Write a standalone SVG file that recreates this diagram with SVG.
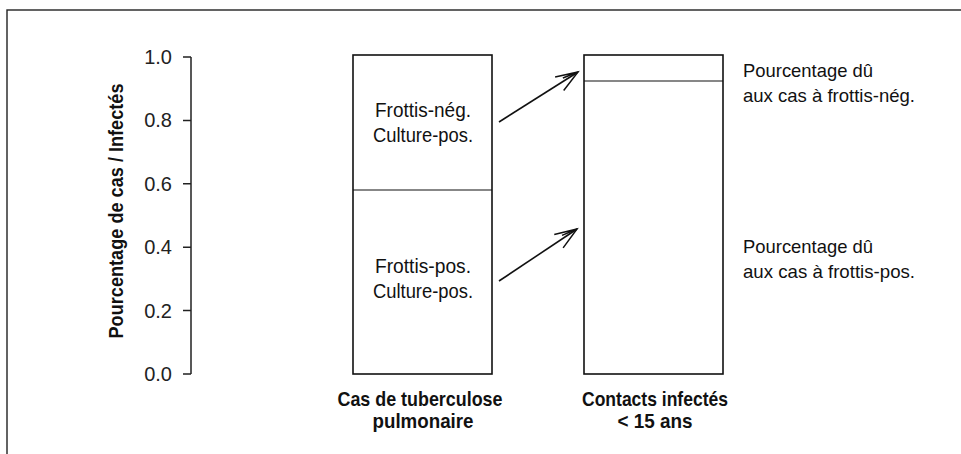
<svg xmlns="http://www.w3.org/2000/svg" width="961" height="454" viewBox="0 0 961 454">
<style>
.frame{fill:none;stroke:#222;stroke-width:1.4}
.ax{fill:none;stroke:#222;stroke-width:1.5}
.bar{fill:#fff;stroke:#111;stroke-width:1.6}
.div{stroke:#111;stroke-width:1.2}
.tick{font-family:"Liberation Sans",Arial,sans-serif;font-size:20px;fill:#222;text-anchor:end}
.c{font-family:"Liberation Sans Narrow","Liberation Sans",sans-serif;font-size:20px;fill:#111}
.r{font-family:"Liberation Sans Narrow","Liberation Sans",sans-serif;font-size:18.5px;fill:#111}
.b{font-family:"Liberation Sans Narrow","Liberation Sans",sans-serif;font-size:21px;font-weight:bold;fill:#111}
.arr{fill:none;stroke:#111;stroke-width:1.6}
</style>
<defs>
<marker id="ah" markerWidth="30" markerHeight="20" viewBox="-24 -10 30 20" refX="0" refY="0" orient="auto" markerUnits="userSpaceOnUse">
<path d="M-22,-8 L0,0 L-22,8 M-16,-3 L0,0" fill="none" stroke="#111" stroke-width="1.5"/>
</marker>
</defs>
<rect class="frame" x="7" y="10" width="970" height="460"/>
<g id="axis">
<path class="ax" d="M191,57 V374 M183,57 H191 M183,120.4 H191 M183,183.8 H191 M183,247.2 H191 M183,310.6 H191 M183,374 H191"/>
<text class="tick" x="172" y="64">1.0</text>
<text class="tick" x="172" y="127.4">0.8</text>
<text class="tick" x="172" y="190.8">0.6</text>
<text class="tick" x="172" y="254.2">0.4</text>
<text class="tick" x="172" y="317.6">0.2</text>
<text class="tick" x="172" y="381">0.0</text>
<text class="b" style="font-size:20px" transform="translate(123,211) rotate(-90)" text-anchor="middle" textLength="255" lengthAdjust="spacingAndGlyphs">Pourcentage de cas / Infectés</text>
</g>
<g id="bar-cas">
<rect class="bar" x="353" y="55" width="139" height="319"/>
<line class="div" x1="353" y1="190" x2="492" y2="190"/>
<text class="c" x="423" y="117" text-anchor="middle" textLength="96" lengthAdjust="spacingAndGlyphs">Frottis-nég.</text>
<text class="c" x="423" y="142" text-anchor="middle" textLength="100" lengthAdjust="spacingAndGlyphs">Culture-pos.</text>
<text class="c" x="423" y="273" text-anchor="middle" textLength="96" lengthAdjust="spacingAndGlyphs">Frottis-pos.</text>
<text class="c" x="423" y="298" text-anchor="middle" textLength="100" lengthAdjust="spacingAndGlyphs">Culture-pos.</text>
<text class="b" x="420" y="406" text-anchor="middle" textLength="165" lengthAdjust="spacingAndGlyphs">Cas de tuberculose</text>
<text class="b" x="423" y="428" text-anchor="middle" textLength="101" lengthAdjust="spacingAndGlyphs">pulmonaire</text>
</g>
<g id="bar-contacts">
<rect class="bar" x="584" y="55" width="139" height="319"/>
<line class="div" x1="584" y1="81" x2="723" y2="81"/>
<text class="b" x="655" y="406" text-anchor="middle" textLength="146" lengthAdjust="spacingAndGlyphs">Contacts infectés</text>
<text class="b" x="655" y="428" text-anchor="middle" textLength="75" lengthAdjust="spacingAndGlyphs">&lt; 15 ans</text>
</g>
<g id="label-neg">
<text class="r" x="743" y="77" textLength="130" lengthAdjust="spacingAndGlyphs">Pourcentage dû</text>
<text class="r" x="743" y="102" textLength="172" lengthAdjust="spacingAndGlyphs">aux cas à frottis-nég.</text>
</g>
<g id="label-pos">
<text class="r" x="743" y="253" textLength="130" lengthAdjust="spacingAndGlyphs">Pourcentage dû</text>
<text class="r" x="743" y="278" textLength="172" lengthAdjust="spacingAndGlyphs">aux cas à frottis-pos.</text>
</g>
<g id="connectors">
<line class="arr" x1="499" y1="122" x2="578" y2="72" marker-end="url(#ah)"/>
<line class="arr" x1="499" y1="281" x2="577" y2="229" marker-end="url(#ah)"/>
</g>
</svg>
